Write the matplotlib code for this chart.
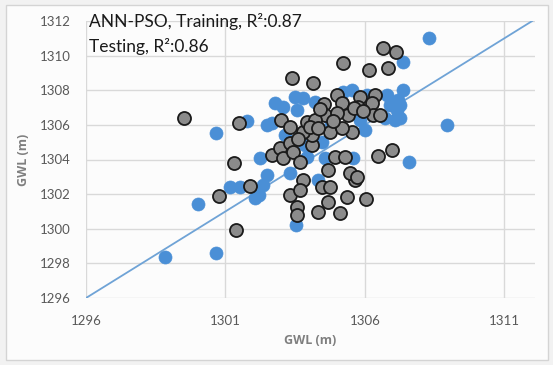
import numpy as np
import matplotlib

matplotlib.use('Agg')
import matplotlib.pyplot as plt
from matplotlib.patches import Rectangle

# observed vs predicted GWL (m), training set
train_obs = [1308.29, 1307.36, 1308.94, 1307.58, 1298.83, 1300.66, 1300.01, 1300.66,
             1301.77, 1302.49, 1301.16, 1301.52, 1302.06, 1302.24, 1302.34, 1302.49,
             1303.31, 1303.53, 1304.57, 1305.57, 1304.32, 1302.77, 1303.49, 1303.06,
             1302.67, 1305.53, 1307.36, 1307.18, 1307.15, 1306.90, 1306.79, 1306.07,
             1303.78, 1304.21, 1303.56, 1303.13, 1303.85, 1307.08, 1306.72, 1307.25,
             1305.82, 1303.92, 1305.21, 1307.25, 1304.46, 1306.00, 1302.20, 1304.80]
train_pred = [1311.03, 1309.64, 1306.00, 1303.86, 1298.37, 1298.60, 1301.43, 1305.54,
              1306.23, 1306.00, 1302.42, 1302.42, 1301.78, 1304.09, 1302.53, 1303.11,
              1303.23, 1300.22, 1304.09, 1304.09, 1302.82, 1307.27, 1307.62, 1307.04,
              1306.12, 1308.02, 1308.02, 1307.45, 1306.87, 1307.16, 1307.73, 1307.73,
              1307.56, 1307.33, 1306.87, 1305.42, 1304.84, 1306.29, 1306.40, 1306.40,
              1306.29, 1304.15, 1307.91, 1307.16, 1305.02, 1305.71, 1301.95, 1306.10]

# testing set
test_obs = [1299.51, 1301.48, 1301.30, 1300.77, 1301.38, 1301.88, 1302.67, 1302.95,
            1303.06, 1303.31, 1303.42, 1303.67, 1303.31, 1303.56, 1303.56, 1303.78,
            1303.67, 1304.32, 1304.67, 1305.10, 1305.35, 1306.04, 1304.46, 1304.75,
            1305.64, 1306.47, 1306.97, 1304.67, 1305.46, 1305.71, 1304.92, 1305.28,
            1304.10, 1304.75, 1304.10, 1305.53, 1303.78, 1306.65, 1307.11, 1305.21,
            1306.14, 1306.82, 1304.14, 1303.38, 1305.00, 1305.82, 1306.36, 1306.25,
            1304.53, 1305.18, 1305.75, 1305.39, 1306.29, 1304.57, 1305.00, 1302.99,
            1303.31, 1303.92, 1304.21, 1304.03, 1304.32, 1305.18, 1306.54,
            1304.40, 1305.60, 1303.60, 1304.85, 1305.95]
test_pred = [1306.40, 1306.12, 1303.80, 1301.90, 1299.93, 1302.47, 1304.27, 1304.67,
             1304.09, 1304.96, 1304.44, 1303.86, 1301.95, 1301.26, 1300.80, 1302.82,
             1302.24, 1300.97, 1301.55, 1300.91, 1301.84, 1301.72, 1302.42, 1302.42,
             1302.82, 1304.21, 1304.55, 1303.40, 1303.23, 1302.99, 1304.15, 1304.15,
             1304.84, 1305.60, 1305.42, 1305.60, 1305.60, 1310.45, 1310.22, 1309.58,
             1309.18, 1309.29, 1308.43, 1308.72, 1307.73, 1307.62, 1307.73, 1307.27,
             1307.21, 1307.27, 1307.04, 1306.58, 1306.58, 1306.58, 1306.69, 1306.29,
             1305.88, 1306.17, 1306.29, 1305.88, 1305.83, 1305.83, 1306.58,
             1306.90, 1306.95, 1305.20, 1306.20, 1306.80]

# 1:1 line
line_x = [1296, 1312]
line_y = [1296, 1312]

x_ticks = [1296, 1301, 1306, 1311]
y_ticks = [1296, 1298, 1300, 1302, 1304, 1306, 1308, 1310, 1312]

plt.rcParams['font.family'] = ['Lato', 'DejaVu Sans']

fig = plt.figure(figsize=(5.53, 3.65), dpi=100)
fig.patch.set_facecolor('#f2f2f2')
fig.patches.append(Rectangle((6 / 553, 5 / 365), 542 / 553, 355 / 365,
                             transform=fig.transFigure, facecolor='#fcfcfc',
                             edgecolor='#d4d4d4', linewidth=1.0, zorder=-5))

ax = fig.add_axes([86 / 553, 1 - 298 / 365, 449 / 553, 277 / 365])
ax.set_facecolor('none')

ax.plot(line_x, line_y, color='#6fa3d6', linewidth=1.3, zorder=2)
ax.scatter(train_obs, train_pred, s=88, color='#4a8fd6', edgecolors='#4a8fd6',
           linewidths=0.5, zorder=3)
ax.scatter(test_obs, test_pred, s=88, color='#8b8b8b', edgecolors='#1a1a1a',
           linewidths=1.3, zorder=4)

ax.set_xlim(1296, 1312.1)
ax.set_ylim(1296, 1312)
ax.set_xticks(x_ticks)
ax.set_yticks(y_ticks)
ax.grid(True, color='#d9d9d9', linewidth=1.0, zorder=0)
ax.set_axisbelow(True)
for sp in ax.spines.values():
    sp.set_visible(False)
ax.tick_params(length=0, labelsize=9.5, labelcolor='#595959')
ax.tick_params(axis='y', pad=11)
ax.tick_params(axis='x', pad=12)

lab_font = dict(fontsize=9, fontweight='bold', color='#7f7f7f',
                family=['Open Sans', 'DejaVu Sans'])
ax.set_xlabel('GWL (m)', labelpad=5, **lab_font)
ax.set_ylabel('GWL (m)', labelpad=7, **lab_font)

fig.text(89 / 553, 1 - 13 / 365, 'ANN-PSO, Training, R\u00b2:0.87', fontsize=12.5,
         color='#1a1a1a', va='top', ha='left')
fig.text(89 / 553, 1 - 38 / 365, 'Testing, R\u00b2:0.86', fontsize=12.5,
         color='#1a1a1a', va='top', ha='left')

fig.savefig('out.png', dpi=100, facecolor=fig.get_facecolor())
